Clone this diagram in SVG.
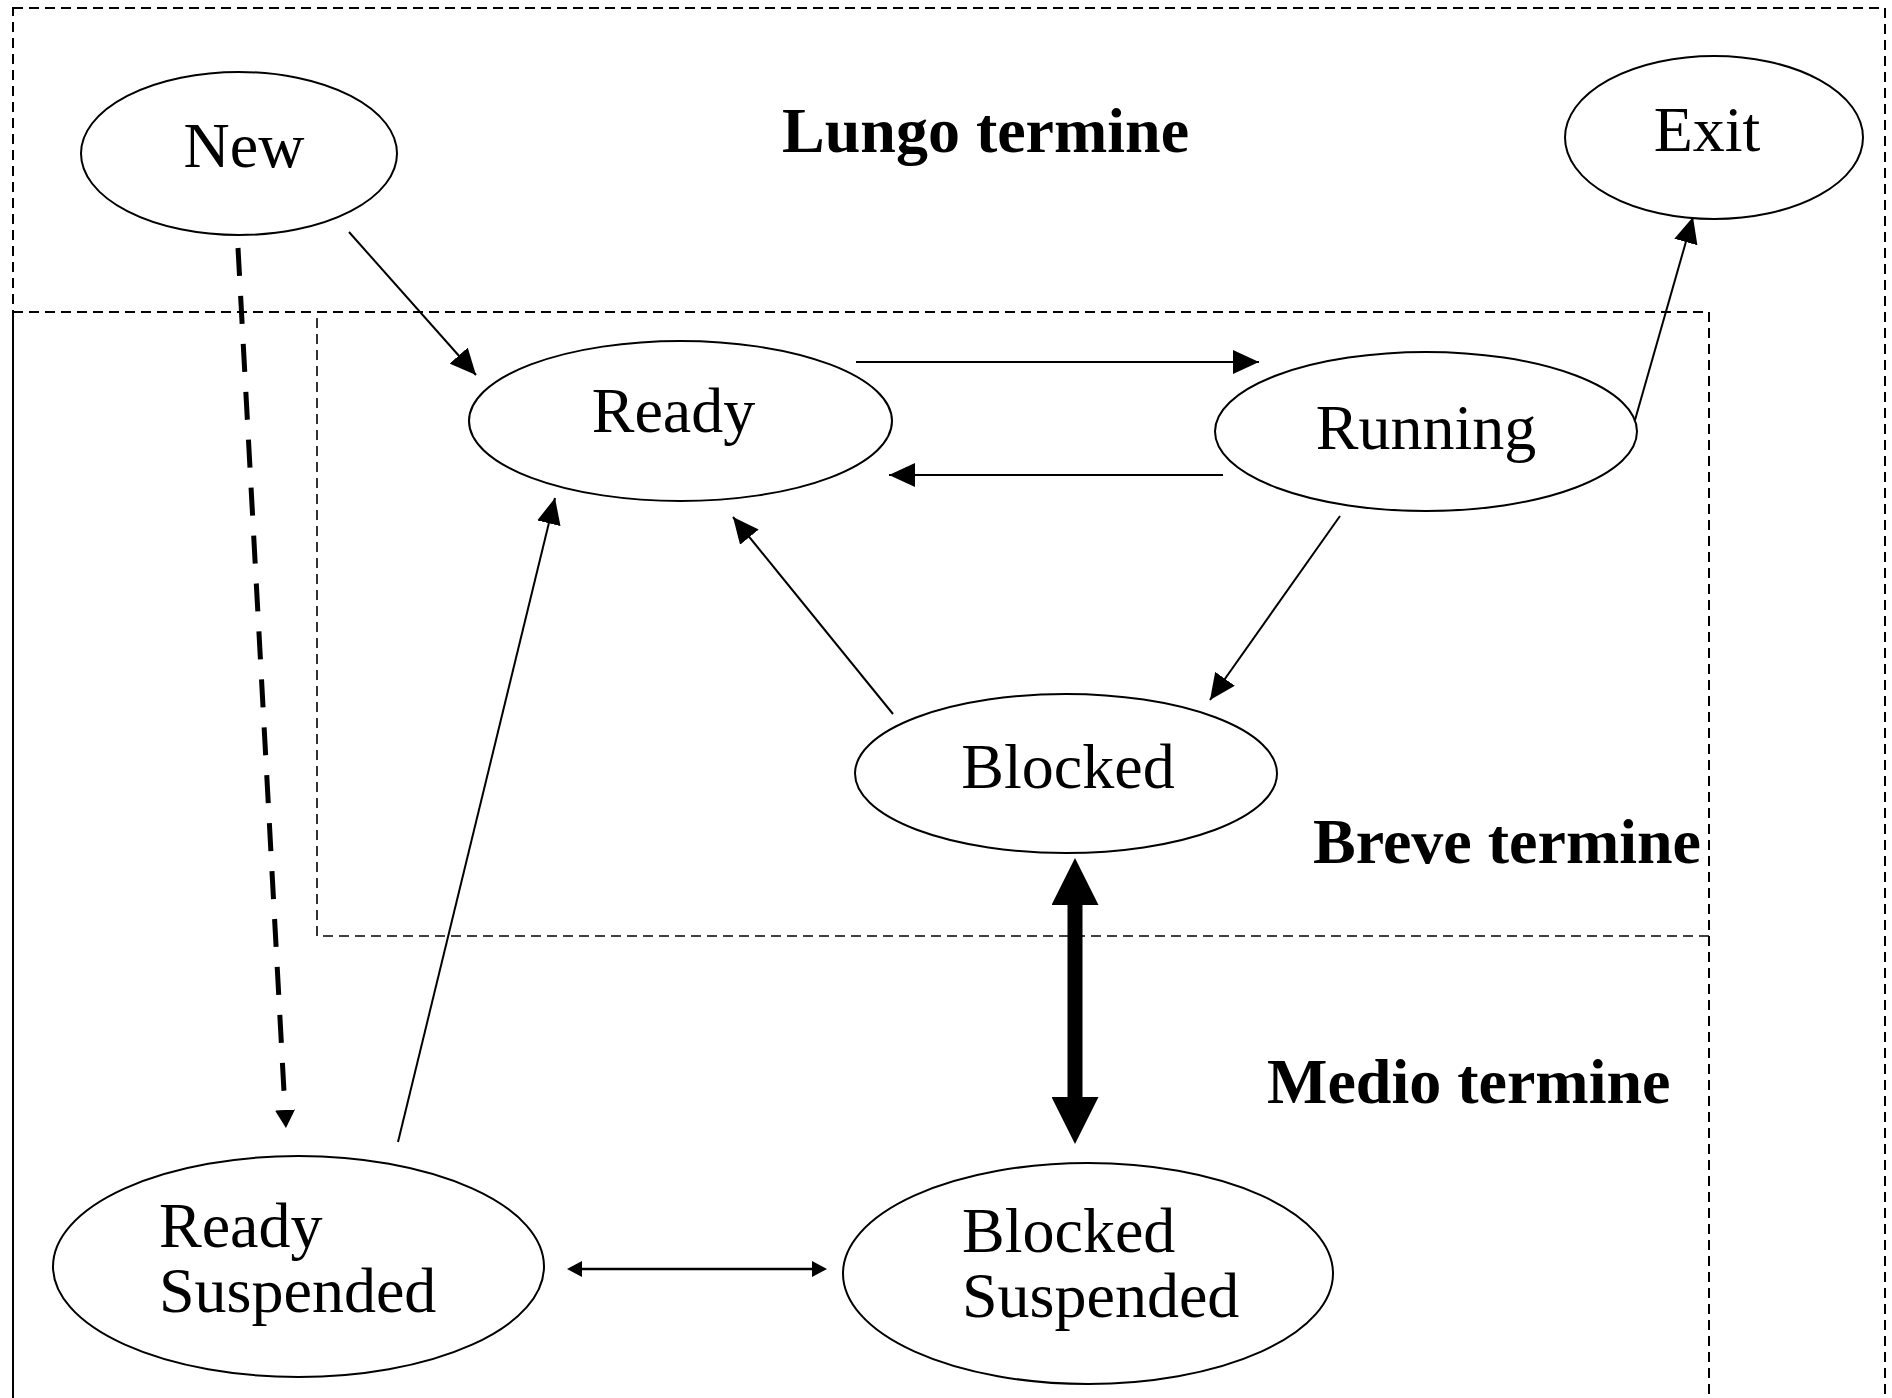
<svg xmlns="http://www.w3.org/2000/svg" width="1892" height="1398" viewBox="0 0 1892 1398">
<style>
  .region { fill: none; stroke: #000; stroke-width: 2; stroke-dasharray: 10 6; }
  .region.thin { stroke-width: 1.6; }
  .node ellipse { fill: #fff; stroke: #000; stroke-width: 2; }
  .lbl { font-family: "Liberation Serif", "Times New Roman", serif; font-size: 64px; fill: #000; }
  .title { font-family: "Liberation Serif", "Times New Roman", serif; font-size: 64px; font-weight: bold; fill: #000; }
  .edge { fill: none; stroke: #000; stroke-width: 2; }
  .edge.dashed { stroke-width: 5; stroke-dasharray: 28 20; }
  .edge.medium { stroke-width: 2.6; }
  .edge.heavy { stroke-width: 15; }
</style>
<defs>
  <marker id="ah" viewBox="0 0 26 24" refX="26" refY="12" markerWidth="26" markerHeight="24" markerUnits="userSpaceOnUse" orient="auto">
    <path d="M0,0 L26,12 L0,24 z" fill="#000"/>
  </marker>
  <marker id="ahs" viewBox="0 0 15 16" refX="0" refY="8" markerWidth="15" markerHeight="16" markerUnits="userSpaceOnUse" orient="auto-start-reverse">
    <path d="M0,0 L15,8 L0,16 z" fill="#000"/>
  </marker>
  <marker id="ahd" viewBox="0 0 18 20" refX="0" refY="10" markerWidth="18" markerHeight="20" markerUnits="userSpaceOnUse" orient="auto">
    <path d="M0,0 L18,10 L0,20 z" fill="#000"/>
  </marker>
  <marker id="ahb" viewBox="0 0 47 47" refX="0" refY="23.5" markerWidth="47" markerHeight="47" markerUnits="userSpaceOnUse" orient="auto-start-reverse">
    <path d="M0,0 L47,23.5 L0,47 z" fill="#000"/>
  </marker>
</defs>
<rect width="1892" height="1398" fill="#fff"/>

<g id="regions">
  <rect id="lungo" class="region" x="13" y="8" width="1872" height="1420"/>
  <rect id="medio" class="region" x="13" y="312" width="1696" height="1120"/>
  <rect id="breve" class="region thin" x="317" y="312" width="1392" height="624"/>
  <text class="title" x="782" y="152">Lungo termine</text>
  <text class="title" x="1313" y="863">Breve termine</text>
  <text class="title" x="1267" y="1103">Medio termine</text>
</g>

<g id="connectors">
  <path class="edge" d="M349,232 L476,375" marker-end="url(#ah)"/>
  <path class="edge" d="M856,362 L1259,362" marker-end="url(#ah)"/>
  <path class="edge" d="M1223,475 L889,475" marker-end="url(#ah)"/>
  <path class="edge" d="M1635,420 L1693,217" marker-end="url(#ah)"/>
  <path class="edge" d="M1340,516 L1210,700" marker-end="url(#ah)"/>
  <path class="edge" d="M893,714 L733,517" marker-end="url(#ah)"/>
  <path class="edge" d="M398,1142 L555,498" marker-end="url(#ah)"/>
  <path class="edge dashed" d="M238,248 L285,1110" marker-end="url(#ahd)"/>
  <path class="edge medium" d="M582,1269 L812,1269" marker-start="url(#ahs)" marker-end="url(#ahs)"/>
  <path class="edge heavy" d="M1075,905 L1075,1097" marker-start="url(#ahb)" marker-end="url(#ahb)"/>
</g>

<g id="node-new" class="node">
  <ellipse cx="239" cy="153.5" rx="158" ry="81.5"/>
  <text class="lbl" x="244" y="167" text-anchor="middle">New</text>
</g>
<g id="node-exit" class="node">
  <ellipse cx="1714" cy="137.5" rx="149" ry="81.5"/>
  <text class="lbl" x="1707" y="151" text-anchor="middle">Exit</text>
</g>
<g id="node-ready" class="node">
  <ellipse cx="680.5" cy="421" rx="211.5" ry="80"/>
  <text class="lbl" x="673.5" y="432" text-anchor="middle">Ready</text>
</g>
<g id="node-running" class="node">
  <ellipse cx="1426" cy="431.5" rx="211" ry="79.5"/>
  <text class="lbl" x="1426" y="449" text-anchor="middle">Running</text>
</g>
<g id="node-blocked" class="node">
  <ellipse cx="1066" cy="773.5" rx="211" ry="79.5"/>
  <text class="lbl" x="1068" y="788" text-anchor="middle">Blocked</text>
</g>
<g id="node-ready-suspended" class="node">
  <ellipse cx="298.5" cy="1266.5" rx="245.5" ry="110.5"/>
  <text class="lbl" x="159" y="1247">Ready</text>
  <text class="lbl" x="159" y="1312">Suspended</text>
</g>
<g id="node-blocked-suspended" class="node">
  <ellipse cx="1088" cy="1273.5" rx="245" ry="110.5"/>
  <text class="lbl" x="962" y="1252">Blocked</text>
  <text class="lbl" x="962" y="1317">Suspended</text>
</g>
</svg>
